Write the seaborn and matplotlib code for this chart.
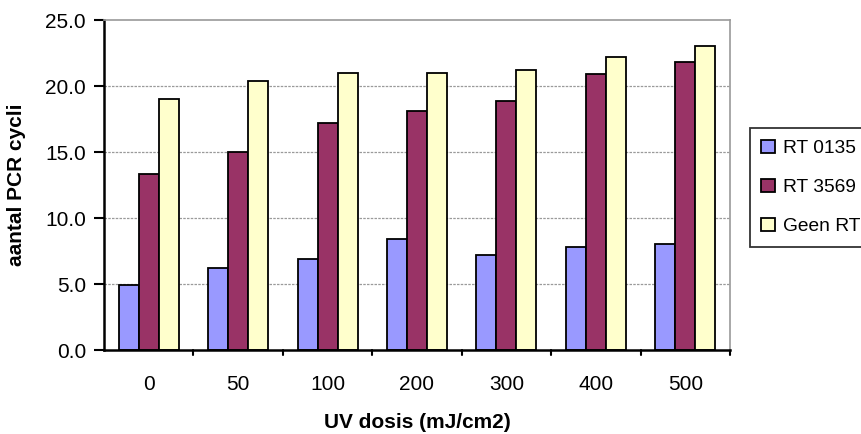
import matplotlib
matplotlib.use("Agg")
import matplotlib.pyplot as plt
import seaborn as sns
import pandas as pd
from matplotlib.patches import Patch

# UV dose categories (mJ/cm2)
doses = ["0", "50", "100", "200", "300", "400", "500"]
series = ["RT 0135", "RT 3569", "Geen RT"]
rt0135 = [4.9, 6.2, 6.9, 8.4, 7.2, 7.8, 8.0]
rt3569 = [13.3, 15.0, 17.2, 18.1, 18.9, 20.9, 21.8]
geen_rt = [19.0, 20.4, 21.0, 21.0, 21.2, 22.2, 23.0]
yticks = [0, 5, 10, 15, 20, 25]
colors = ["#9999FF", "#993366", "#FFFFCC"]

df = pd.DataFrame({
    "dosis": doses * 3,
    "serie": [s for s in series for _ in doses],
    "cycli": rt0135 + rt3569 + geen_rt,
})

sns.set_style("white")
plt.rcParams["font.family"] = ["Liberation Sans", "DejaVu Sans"]
plt.rcParams["text.color"] = "black"
plt.rcParams["axes.labelcolor"] = "black"
plt.rcParams["xtick.color"] = "black"
plt.rcParams["ytick.color"] = "black"

fig = plt.figure(figsize=(8.62, 4.34), dpi=100)
ax = fig.add_axes([104 / 862, 84 / 434, 626 / 862, 330 / 434])

sns.barplot(data=df, x="dosis", y="cycli", hue="serie", order=doses,
            hue_order=series, palette=colors, width=0.67, ax=ax,
            edgecolor="black", linewidth=1.3, legend=False, saturation=1)

ax.set_ylim(0, 25)
ax.set_xlim(-0.5, len(doses) - 0.5)
ax.set_yticks(yticks)
ax.set_yticklabels([f"{v:.1f}" for v in yticks], fontsize=15)
ax.tick_params(axis="x", labelsize=15, length=0, pad=18)
ax.tick_params(axis="y", length=7, width=1.5, direction="out", left=True, pad=6)

# category boundary ticks on the x axis
for b in range(1, len(doses) + 1):
    ax.plot([b - 0.5, b - 0.5], [0, -0.4], color="black", lw=1.5, clip_on=False)

for v in yticks[1:-1]:
    ax.axhline(v, color="#9a9a9a", lw=0.9, ls=(0, (2, 1)), zorder=0)
ax.set_axisbelow(True)

for side in ["left", "bottom"]:
    ax.spines[side].set_color("black")
    ax.spines[side].set_linewidth(1.8)
for side in ["top", "right"]:
    ax.spines[side].set_color("#9a9a9a")
    ax.spines[side].set_linewidth(1.2)

ax.set_xlabel("UV dosis (mJ/cm2)", fontsize=15, fontweight="bold", labelpad=14)
ax.set_ylabel("aantal PCR cycli", fontsize=15, fontweight="bold", labelpad=14)

handles = [Patch(facecolor=c, edgecolor="black", linewidth=1.3) for c in colors]
leg = fig.legend(handles, series, loc="upper left",
                 bbox_to_anchor=(750 / 862, 1 - 128 / 434),
                 fontsize=13.8, frameon=True, fancybox=False,
                 handlelength=0.68, handleheight=0.68, handletextpad=0.42,
                 labelspacing=1.15, borderpad=0.6, borderaxespad=0)
leg.get_frame().set_edgecolor("black")
leg.get_frame().set_linewidth(1.3)

fig.savefig("out.png", dpi=100)
